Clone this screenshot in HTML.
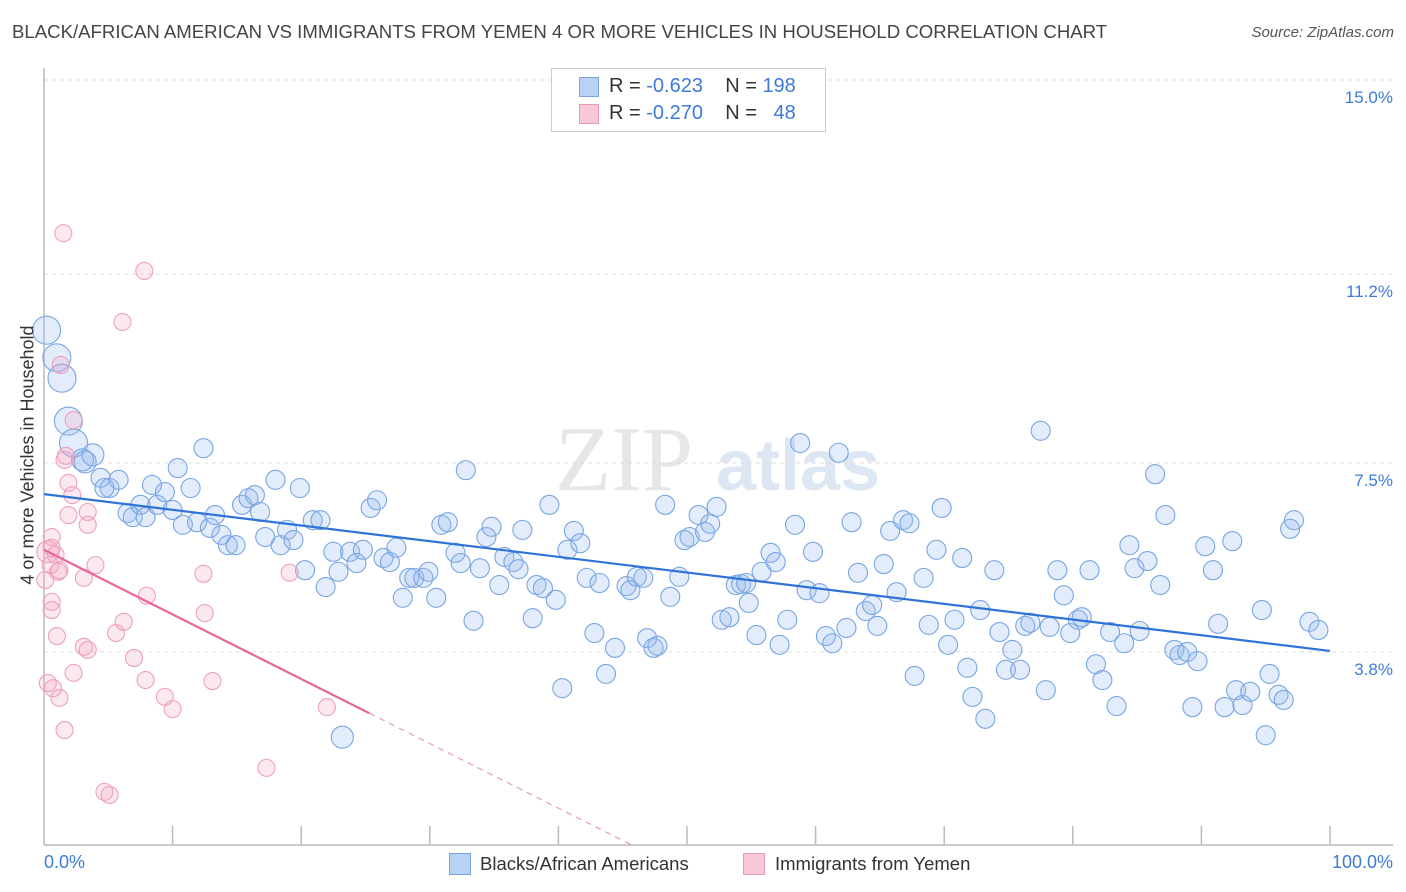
<!DOCTYPE html>
<html><head><meta charset="utf-8"><style>
body{margin:0;background:#fff;font-family:"Liberation Sans",sans-serif;}
#wrap{position:relative;width:1406px;height:892px;overflow:hidden;}
.t{position:absolute;white-space:nowrap;}
</style></head><body>
<div id="wrap">
<div class="t" style="left:12px;top:21px;font-size:18.6px;color:#444;">BLACK/AFRICAN AMERICAN VS IMMIGRANTS FROM YEMEN 4 OR MORE VEHICLES IN HOUSEHOLD CORRELATION CHART</div>
<div class="t" style="right:12px;top:24px;font-size:15px;color:#555;font-style:italic;">Source: ZipAtlas.com</div>
<svg id="svg" width="1406" height="892" style="position:absolute;left:0;top:0"></svg>
</div>
<script>
const yTicks=[15.0,11.2,7.5,3.8];
const yTickLabels=["15.0%","11.2%","7.5%","3.8%"];
const blueX=[0.2,1.0,1.4,1.9,2.3,3.0,3.8,3.2,4.4,5.1,5.8,4.7,6.5,6.9,7.5,7.9,8.4,8.8,9.4,10.0,10.4,10.8,11.4,11.9,12.4,12.9,13.3,13.8,14.3,14.9,15.4,15.9,16.4,16.8,17.2,18.0,18.4,18.9,19.4,19.9,20.3,20.9,21.5,21.9,22.5,22.9,23.8,24.3,24.8,25.4,25.9,26.4,26.9,27.4,27.9,28.4,28.8,29.5,29.9,30.5,30.9,31.4,32.0,32.4,32.8,33.4,33.9,34.4,34.8,35.4,35.8,36.5,36.9,37.2,38.0,38.3,38.8,39.3,39.8,40.3,40.7,41.2,41.7,42.2,42.8,43.2,43.7,44.4,45.3,45.6,46.1,46.6,46.9,47.4,47.7,48.3,48.7,49.4,49.8,50.2,50.9,51.4,51.8,52.3,52.7,53.3,53.8,54.2,54.6,54.8,55.4,55.8,56.5,56.9,57.2,57.8,58.4,58.8,59.3,59.8,60.3,60.8,61.3,61.8,62.4,62.8,63.3,63.9,64.4,64.8,65.3,65.8,66.3,66.8,67.3,67.7,68.4,68.8,69.4,69.8,70.3,70.8,71.4,71.8,72.2,72.8,73.2,73.9,74.3,74.8,75.3,75.9,76.3,76.7,77.5,77.9,78.2,78.8,79.3,79.8,80.4,80.7,81.3,81.8,82.3,82.9,83.4,84.0,84.4,84.8,85.2,85.8,86.4,86.8,87.2,87.9,88.3,88.9,89.3,89.7,90.3,90.9,91.3,91.8,92.4,92.7,93.2,93.8,94.7,95.0,95.3,96.0,96.4,96.9,97.2,98.4,99.1,23.2];
const blueY=[10.10,9.56,9.16,8.32,7.89,7.56,7.66,7.52,7.21,7.01,7.17,7.01,6.52,6.44,6.68,6.44,7.07,6.68,6.93,6.58,7.40,6.29,7.01,6.34,7.79,6.23,6.48,6.09,5.89,5.89,6.68,6.81,6.87,6.54,6.05,7.17,5.89,6.19,5.99,7.01,5.40,6.38,6.38,5.07,5.76,5.37,5.76,5.54,5.80,6.62,6.77,5.64,5.56,5.84,4.86,5.25,5.25,5.25,5.37,4.86,6.29,6.34,5.74,5.54,7.36,4.41,5.44,6.05,6.25,5.11,5.66,5.56,5.42,6.19,4.46,5.11,5.05,6.68,4.82,3.09,5.80,6.17,5.93,5.25,4.17,5.15,3.37,3.88,5.09,5.01,5.27,5.25,4.07,3.88,3.92,6.68,4.88,5.27,5.99,6.05,6.48,6.15,6.31,6.64,4.43,4.48,5.11,5.13,5.15,4.76,4.13,5.37,5.74,5.56,3.94,4.43,6.29,7.89,5.01,5.76,4.95,4.11,3.97,7.70,4.27,6.34,5.35,4.60,4.72,4.31,5.52,6.17,4.97,6.38,6.32,3.33,5.25,4.33,5.80,6.62,3.94,4.43,5.64,3.49,2.92,4.62,2.49,5.40,4.19,3.45,3.84,3.45,4.31,4.37,8.13,3.05,4.29,5.40,4.91,4.17,4.43,4.48,5.40,3.56,3.25,4.19,2.74,3.97,5.89,5.44,4.21,5.58,7.28,5.11,6.48,3.84,3.74,3.80,2.72,3.62,5.87,5.40,4.35,2.72,5.97,3.05,2.76,3.02,4.62,2.17,3.37,2.96,2.86,6.21,6.38,4.39,4.23,2.13];
const pinkX=[1.5,7.8,6.1,1.3,2.3,1.7,1.6,1.9,2.2,1.9,3.4,3.4,0.6,0.3,0.9,0.5,1.2,4.0,3.1,0.6,0.6,1.0,5.6,6.2,3.1,3.4,7.0,2.3,7.9,0.3,0.7,1.2,9.4,10.0,13.1,12.4,12.5,19.1,22.0,1.6,17.3,4.7,5.1,8.0,0.6,1.1,0.1];
const pinkY=[12.00,11.26,10.26,9.42,8.34,7.64,7.56,7.11,6.87,6.48,6.54,6.29,6.05,5.76,5.70,5.50,5.40,5.50,5.25,4.78,4.62,4.11,4.17,4.39,3.90,3.84,3.68,3.39,3.25,3.19,3.09,2.90,2.92,2.68,3.23,5.33,4.56,5.35,2.72,2.27,1.53,1.06,1.00,4.90,5.84,5.37,5.21];
const blueTrend=[6.89,3.82];
const pinkTrend=[5.80,2.60,25.3];

const NS="http://www.w3.org/2000/svg";
const svg=document.getElementById('svg');
const X0=44,X1=1330,Y0=846,PPY=51.07;
const sx=v=>X0+(X1-X0)*v/100;
const sy=v=>Y0-v*PPY;
function mk(tag,attrs,parent){const e=document.createElementNS(NS,tag);for(const k in attrs)e.setAttribute(k,attrs[k]);(parent||svg).appendChild(e);return e;}

let wm=mk('text',{x:555,y:490,'font-size':92,'font-family':'Liberation Serif, serif',fill:'#e6e6e6'});wm.textContent='ZIP';


let wm2=mk('text',{x:716,y:490,'font-size':72,'font-family':'Liberation Sans, sans-serif','font-weight':'bold',fill:'#dde7f3'});wm2.textContent='atlas';



yTicks.forEach((v,i)=>{
  const g=mk('line',{x1:X0,x2:1393,y1:sy(v),y2:sy(v),stroke:'#dcdcdc','stroke-dasharray':'4,4'});
  
  
  const t=mk('text',{x:1393,y:sy(v)+23,'text-anchor':'end','font-size':17,fill:'#3d7bd9','font-family':'Liberation Sans, sans-serif'});
  t.textContent=yTickLabels[i];
  
  
});
const ax=mk('line',{x1:X0,x2:1393,y1:845,y2:845,stroke:'#bbb','stroke-width':1.5});


const ay=mk('line',{x1:X0,x2:X0,y1:68,y2:845,stroke:'#bbb','stroke-width':1.5});


for(let i=1;i<=10;i++){
  const tk=mk('line',{x1:sx(i*10),x2:sx(i*10),y1:826,y2:845,stroke:'#bbb','stroke-width':1.5});
  
  
}
blueX.forEach((x,i)=>{
  const r=x<2.5?14:(x<4?11:(i===blueX.length-1?11:9.5));
  const c=mk('circle',{cx:sx(x),cy:sy(blueY[i]),r:r,fill:'rgba(150,188,238,0.28)',stroke:'#78a6e2','stroke-width':1.1});
  
  
});
pinkX.forEach((x,i)=>{
  const r=(i===13)?11:8.5;
  const c=mk('circle',{cx:sx(x),cy:sy(pinkY[i]),r:r,fill:'rgba(245,165,195,0.25)',stroke:'#eea0bc','stroke-width':1.1});
  
  
});
const bl=mk('line',{x1:sx(0),y1:sy(blueTrend[0]),x2:sx(100),y2:sy(blueTrend[1]),stroke:'#2f73d8','stroke-width':2.2});


const slope=(pinkTrend[1]-pinkTrend[0])/pinkTrend[2];
const pl=mk('line',{x1:sx(0),y1:sy(pinkTrend[0]),x2:sx(pinkTrend[2]),y2:sy(pinkTrend[1]),stroke:'#e8679a','stroke-width':2.2});


const zx=-pinkTrend[0]/slope;
const pd=mk('line',{x1:sx(pinkTrend[2]),y1:sy(pinkTrend[1]),x2:sx(zx),y2:sy(0),stroke:'#e8a0bc','stroke-width':1.2,'stroke-dasharray':'6,5'});


</script>
<div class="t" style="left:28px;top:455px;font-size:18px;color:#333;transform:translate(-50%,-50%) rotate(-90deg);">4 or more Vehicles in Household</div>
<div class="t" style="left:44px;top:852px;font-size:18px;color:#3d7bd9;">0.0%</div>
<div class="t" style="right:13px;top:852px;font-size:18px;color:#3d7bd9;">100.0%</div>
<div style="position:absolute;left:551px;top:68px;width:273px;height:62px;border:1px solid #ccc;background:#fff;font-size:20px;">
  <div style="position:absolute;left:27px;top:8px;width:18px;height:18px;background:#b8d2f5;border:1px solid #7aa5e0;"></div>
  <div class="t" style="left:57px;top:6px;color:#333;">R = <span style="color:#3d7bd9">-0.623</span>&nbsp;&nbsp;&nbsp;&nbsp;N = <span style="color:#3d7bd9">198</span></div>
  <div style="position:absolute;left:27px;top:35px;width:18px;height:18px;background:#f8c8d8;border:1px solid #e89ab5;"></div>
  <div class="t" style="left:57px;top:33px;color:#333;">R = <span style="color:#3d7bd9">-0.270</span>&nbsp;&nbsp;&nbsp;&nbsp;N = &nbsp;&nbsp;<span style="color:#3d7bd9">48</span></div>
</div>
<div style="position:absolute;left:449px;top:853px;">
  <div style="position:absolute;left:0;top:0;width:20px;height:20px;background:#b8d2f5;border:1px solid #7aa5e0;"></div>
  <div class="t" style="left:31px;top:0;font-size:18.5px;color:#333;">Blacks/African Americans</div>
</div>
<div style="position:absolute;left:743px;top:853px;">
  <div style="position:absolute;left:0;top:0;width:20px;height:20px;background:#f8c8d8;border:1px solid #e89ab5;"></div>
  <div class="t" style="left:32px;top:0;font-size:18.5px;color:#333;">Immigrants from Yemen</div>
</div>
</body></html>
